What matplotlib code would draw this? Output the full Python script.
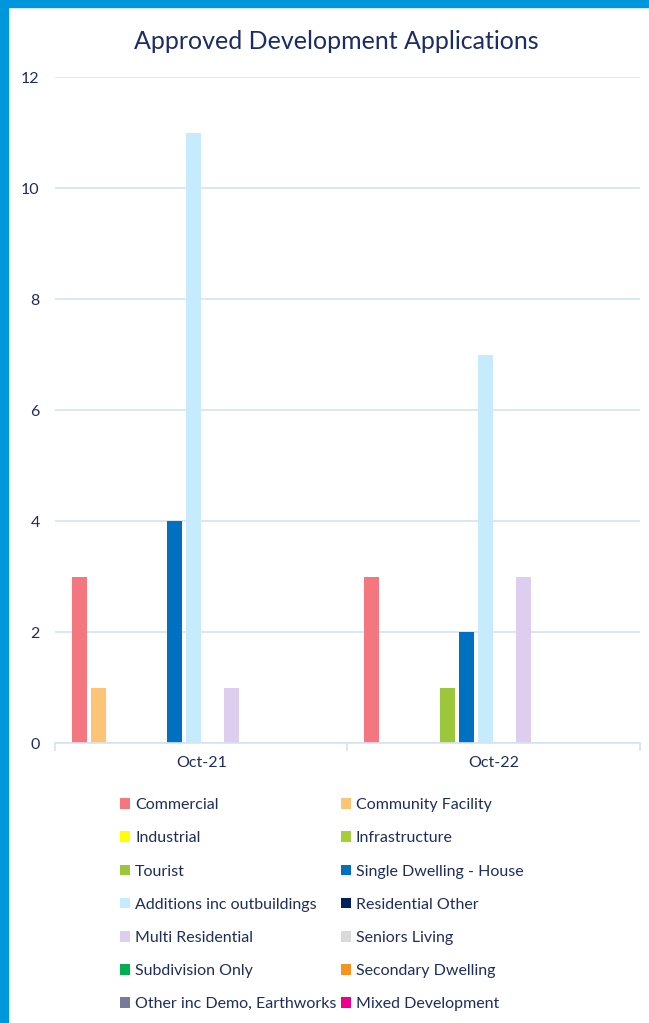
import numpy as np
import matplotlib.pyplot as plt
from matplotlib.patches import Rectangle, Patch

plt.rcParams['font.family'] = ['Lato', 'DejaVu Sans']

months = ['Oct-21', 'Oct-22']
series = ['Commercial', 'Community Facility', 'Industrial', 'Infrastructure',
          'Tourist', 'Single Dwelling - House', 'Additions inc outbuildings',
          'Residential Other', 'Multi Residential', 'Seniors Living',
          'Subdivision Only', 'Secondary Dwelling', 'Other inc Demo, Earthworks',
          'Mixed Development']
oct21 = [3, 1, 0, 0, 0, 4, 11, 0, 1, 0, 0, 0, 0, 0]
oct22 = [3, 0, 0, 0, 1, 2, 7, 0, 3, 0, 0, 0, 0, 0]
colors = ['#F4777F', '#FDC477', '#FFFF00', '#A6CE39', '#9DC73B', '#0070C0',
          '#C6EBFD', '#002060', '#DDCDEF', '#D9D9D9', '#00B050', '#F7941D',
          '#767B98', '#EC008C']

txt = '#1F2D5E'
grid = '#D6E3F5'

fig = plt.figure(figsize=(6.49, 10.23), dpi=100)
ax = fig.add_axes([0.0847, 0.2737, 0.9013, 0.651])

n = len(series)
slot = 0.065
bw = 0.0513
x = np.arange(len(months))
for k in range(n):
    vals = [oct21[k], oct22[k]]
    ax.bar(x - 0.5 + 0.058 + slot * k + bw / 2, vals, width=bw, color=colors[k])

ax.set_xlim(-0.5, 1.5)
ax.set_ylim(0, 12)
ax.set_yticks(range(0, 13, 2))
ax.yaxis.grid(True, color=grid, linewidth=1.2)
ax.set_axisbelow(True)
for s in ['top', 'right', 'left']:
    ax.spines[s].set_visible(False)
ax.spines['bottom'].set_color(grid)
ax.spines['bottom'].set_linewidth(1.2)
ax.tick_params(axis='y', length=0, labelsize=11.5, labelcolor=txt, pad=11)
ax.set_xticks(x)
ax.set_xticklabels(months)
ax.tick_params(axis='x', length=0, labelsize=11.5, labelcolor=txt, pad=9)
ax.set_xticks([-0.5, 0.5, 1.5], minor=True)
ax.tick_params(axis='x', which='minor', length=6, color=grid, width=1.2)

ax.set_title('Approved Development Applications', fontsize=18, color='#1C2C66',
             pad=20, x=0.481)

# legend filled row by row, two columns
order = list(range(0, n, 2)) + list(range(1, n, 2))
handles = [Patch(facecolor=colors[i]) for i in order]
labels = [series[i] for i in order]
fig.legend(handles, labels, ncol=2, loc='upper left', bbox_to_anchor=(0.175, 0.226),
           frameon=False, fontsize=11.5, labelcolor=txt, handlelength=0.65,
           handleheight=0.65, handletextpad=0.3, columnspacing=0.25,
           labelspacing=1.2, borderaxespad=0)

# blue frame on the left and top
fig.patches.append(Rectangle((0, 0), 8 / 649, 1, transform=fig.transFigure,
                             color='#0096DB', zorder=10))
fig.patches.append(Rectangle((0, 1 - 7 / 1023), 1, 7 / 1023, transform=fig.transFigure,
                             color='#0096DB', zorder=10))

plt.savefig('out.png', dpi=100)
